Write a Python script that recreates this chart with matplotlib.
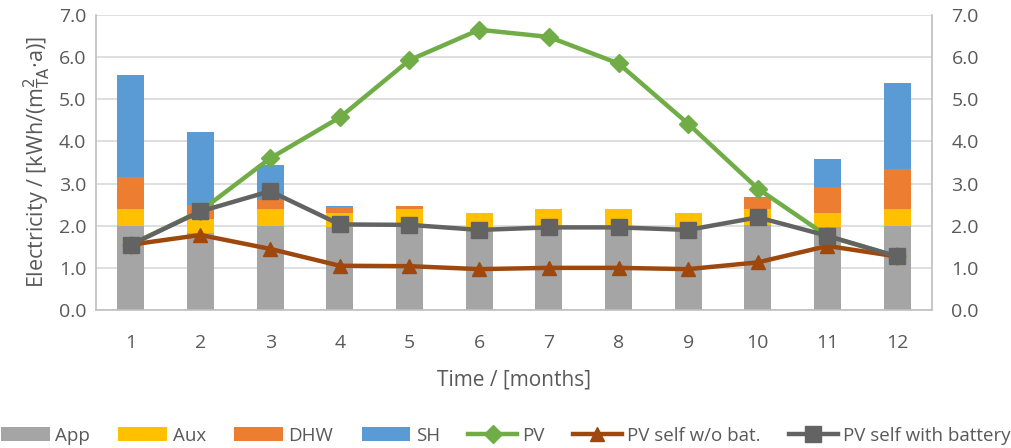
import numpy as np
import matplotlib
matplotlib.use('Agg')
from matplotlib import pyplot as plt

months = list(range(1, 13))
app = [2.0, 1.83, 2.0, 1.97, 1.97, 1.93, 1.95, 1.95, 1.93, 2.02, 1.97, 2.0]
aux = [0.4, 0.33, 0.4, 0.33, 0.43, 0.37, 0.44, 0.44, 0.37, 0.38, 0.34, 0.4]
dhw = [0.76, 0.34, 0.2, 0.14, 0.07, 0.0, 0.0, 0.0, 0.0, 0.28, 0.62, 0.95]
sh = [2.42, 1.72, 0.83, 0.03, 0.0, 0.0, 0.0, 0.0, 0.0, 0.0, 0.66, 2.04]

pv = [1.55, 2.35, 3.6, 4.57, 5.93, 6.65, 6.48, 5.85, 4.42, 2.88, 1.75, 1.27]
pv_self = [1.55, 1.78, 1.45, 1.05, 1.04, 0.97, 1.0, 1.0, 0.97, 1.13, 1.52, 1.27]
pv_batt = [1.55, 2.34, 2.82, 2.03, 2.02, 1.9, 1.96, 1.96, 1.9, 2.2, 1.76, 1.27]

txt = '#595959'
plt.rcParams['font.family'] = ['Open Sans', 'DejaVu Sans']

fig = plt.figure(figsize=(10.12, 4.48), dpi=100)
ax = fig.add_axes([96/1012, 138/448, 836/1012, 295/448])

x = np.arange(len(months))
w = 0.39
b1 = np.array(app)
b2 = b1 + np.array(aux)
b3 = b2 + np.array(dhw)
ax.bar(x, app, w, color='#A5A5A5', label='App', zorder=2)
ax.bar(x, aux, w, bottom=b1, color='#FFC000', label='Aux', zorder=2)
ax.bar(x, dhw, w, bottom=b2, color='#ED7D31', label='DHW', zorder=2)
ax.bar(x, sh, w, bottom=b3, color='#5B9BD5', label='SH', zorder=2)

ax.plot(x, pv, color='#70AD47', lw=3.2, marker='D', ms=9, label='PV', zorder=3)
ax.plot(x, pv_self, color='#9E480E', lw=3.2, marker='^', ms=10, label='PV self w/o bat.', zorder=4)
ax.plot(x, pv_batt, color='#636363', lw=3.2, marker='s', ms=11, label='PV self with battery', zorder=5)

ax.set_xlim(-0.5, 11.5)
ax.set_ylim(0, 7)
ticks = np.arange(0, 7.1, 1)
ax.set_yticks(ticks)
ax.set_yticklabels(['{:.1f}'.format(v) for v in ticks])
ax.set_xticks(x)
ax.set_xticklabels([str(m) for m in months])
ax.grid(axis='y', color='#D9D9D9', lw=1.2, zorder=0)
ax.set_axisbelow(True)
for s in ax.spines.values():
    s.set_color('#BFBFBF')
    s.set_linewidth(1.2)
ax.spines['top'].set_visible(False)
ax.tick_params(axis='both', length=0, colors=txt, labelsize=14, pad=7)
ax.tick_params(axis='x', pad=17)
ax.set_xlabel('Time / [months]', color=txt, fontsize=15, labelpad=13)
ax.set_ylabel(r'Electricity / [kWh/(m$^{2}_{\mathrm{TA}}$·a)]', color=txt, fontsize=15.5, labelpad=4)

ax2 = ax.twinx()
ax2.set_ylim(0, 7)
ax2.set_yticks(ticks)
ax2.set_yticklabels(['{:.1f}'.format(v) for v in ticks])
ax2.tick_params(axis='y', length=0, colors=txt, labelsize=14, pad=14)
for s in ax2.spines.values():
    s.set_visible(False)

h, l = ax.get_legend_handles_labels()
order = [3, 4, 5, 6, 0, 1, 2]
fig.legend([h[i] for i in order], [l[i] for i in order], loc='lower center',
           bbox_to_anchor=(0.5, -0.03), ncol=7, frameon=False, fontsize=13.5,
           labelcolor=txt, handlelength=2.6, columnspacing=1.5, handletextpad=0.3)

fig.savefig('out.png', dpi=100)
